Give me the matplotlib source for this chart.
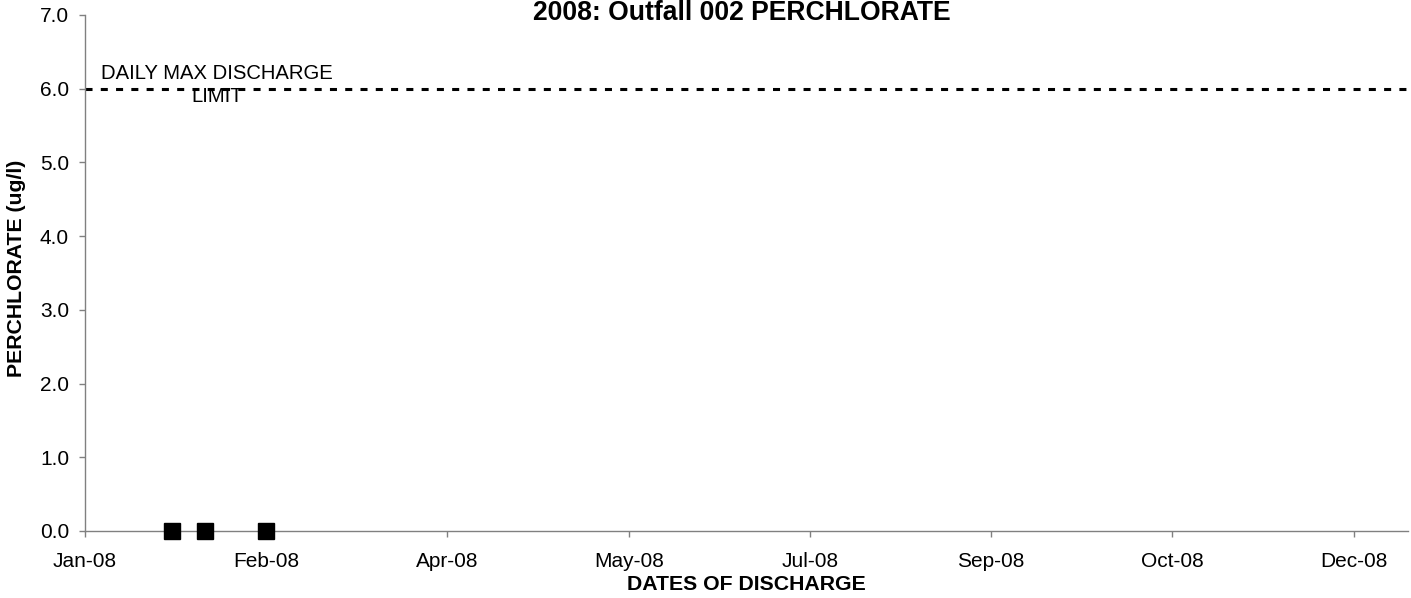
import matplotlib
matplotlib.use("Agg")
import matplotlib.pyplot as plt
import datetime as dt

plt.rcParams['font.family'] = ['Liberation Sans', 'DejaVu Sans']

# Data
sample_dates = [dt.date(2008, 1, 25), dt.date(2008, 2, 3), dt.date(2008, 2, 20)]
perchlorate = [0.0, 0.0, 0.0]
limit_value = 6.0
tick_dates = [dt.date(2008, 1, 1) + dt.timedelta(days=50 * i) for i in range(8)]
tick_labels = ["Jan-08", "Feb-08", "Apr-08", "May-08", "Jul-08", "Sep-08", "Oct-08", "Dec-08"]
y_ticks = [0, 1, 2, 3, 4, 5, 6, 7]

W, H = 1411, 598
fig = plt.figure(figsize=(W / 100, H / 100), dpi=100)
ax = fig.add_axes([85 / W, (H - 531) / H, (1408 - 85) / W, (531 - 15) / H])

xmin = dt.date(2008, 1, 1)
xmax = dt.date(2008, 12, 31)
ax.set_xlim(xmin, xmax)
ax.set_ylim(0, 7)

ax.plot([xmin, dt.date(2009, 1, 2)], [limit_value, limit_value], color='black', lw=2.2,
        linestyle=(0, (2.3, 2.7)), clip_on=False)
ax.plot(sample_dates, perchlorate, linestyle='none', marker='s', markersize=11,
        color='black', clip_on=False, zorder=5)

ax.set_xticks(tick_dates)
ax.set_xticklabels(tick_labels)
ax.set_yticks(y_ticks)
ax.set_yticklabels([f"{v:.1f}" for v in y_ticks])

for s in ['top', 'right']:
    ax.spines[s].set_visible(False)
for s in ['left', 'bottom']:
    ax.spines[s].set_color('#808080')
    ax.spines[s].set_linewidth(1.0)
ax.tick_params(axis='both', direction='out', length=4.5, width=1, color='#808080',
               labelsize=15)
ax.tick_params(axis='y', pad=7)
ax.tick_params(axis='x', pad=10.5)

ax.text(dt.datetime(2008, 2, 6, 12), limit_value + 0.05, "DAILY MAX DISCHARGE\nLIMIT",
        ha='center', va='center', fontsize=14.6, linespacing=1.28)

fig.text(742 / W, 1 - 12.5 / H, "2008: Outfall 002 PERCHLORATE", ha='center', va='center',
         fontsize=19.1, fontweight='bold')
fig.text(746 / W, 1 - 585 / H, "DATES OF DISCHARGE", ha='center', va='center',
         fontsize=15.3, fontweight='bold')
fig.text(17 / W, 1 - 268 / H, "PERCHLORATE (ug/l)", ha='center', va='center',
         fontsize=15.3, fontweight='bold', rotation=90)

fig.savefig("out.png", dpi=100)
